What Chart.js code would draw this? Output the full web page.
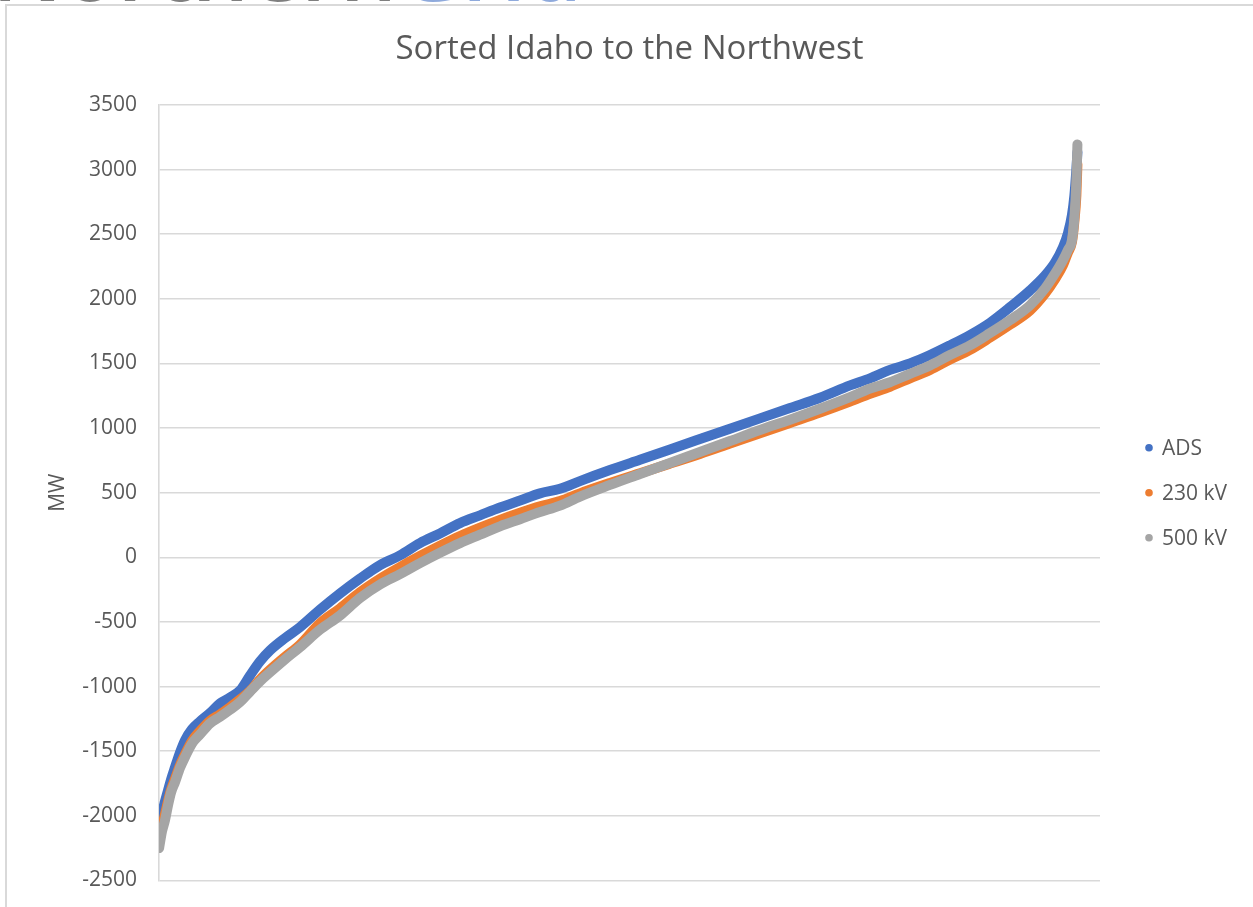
<!DOCTYPE html>
<html>
<head>
<meta charset="utf-8">
<title>Sorted Idaho to the Northwest</title>
<script src="https://cdn.jsdelivr.net/npm/chart.js@4/dist/chart.umd.min.js"></script>
<style>
  html, body { margin: 0; padding: 0; background: #ffffff; overflow: hidden; }
  body { width: 1253px; height: 907px; position: relative; font-family: "Open Sans", sans-serif; }
  #brand {
    position: absolute; left: -8px; top: -79px;
    font-size: 90px; line-height: 90px; font-weight: 600;
    white-space: nowrap; color: #7f7f7f;
  }
  #brand span { color: #8faadc; }
  #frame {
    position: absolute; left: 5px; top: 4px; width: 1248px; height: 903px;
    border-left: 2px solid #d9d9d9; border-top: 2px solid #d9d9d9;
    background: #ffffff; overflow: hidden;
  }
  #chart { position: absolute; left: 0; top: 0; }
</style>
</head>
<body>
<div id="frame"><canvas id="chart" width="1246" height="909"></canvas></div>
<div id="brand">Northern<span>Grid</span></div>
<script>
// Hour of the year (sorted order) at which each series value is given
const hours = [
  1, 29, 57, 86, 115, 153, 201, 249, 316, 392,
  488, 583, 679, 775, 870, 966, 1062, 1205, 1349, 1540,
  1731, 1922, 2114, 2305, 2496, 2687, 2879, 3070, 3261, 3453,
  3644, 3835, 4026, 4313, 4600, 4887, 5174, 5461, 5748, 6035,
  6322, 6609, 6800, 6991, 7182, 7374, 7565, 7756, 7948, 8139,
  8330, 8474, 8569, 8646, 8694, 8732, 8755, 8774, 8784
];

// Sorted flow, MW
const adsMW = [
  -2140, -1985, -1890, -1805, -1720, -1625, -1510, -1415, -1330, -1270,
  -1205, -1130, -1085, -1030, -915, -805, -720, -625, -540, -405,
  -280, -165, -60, 15, 110, 185, 265, 325, 385, 440,
  495, 530, 590, 675, 755, 835, 915, 995, 1075, 1155,
  1235, 1330, 1385, 1450, 1500, 1565, 1640, 1720, 1815, 1935,
  2065, 2180, 2280, 2400, 2510, 2650, 2800, 3000, 3135
];

const kv230MW = [
  -2180, -2080, -1990, -1890, -1800, -1715, -1610, -1525, -1420, -1345,
  -1265, -1215, -1160, -1100, -1035, -945, -870, -770, -675, -510,
  -395, -270, -165, -75, 10, 90, 165, 230, 290, 345,
  395, 435, 495, 575, 650, 725, 800, 880, 960, 1040,
  1120, 1205, 1265, 1320, 1385, 1450, 1530, 1605, 1700, 1800,
  1910, 2040, 2150, 2260, 2360, 2440, 2600, 2800, 3040
];

const kv500MW = [
  -2250, -2120, -2035, -1920, -1820, -1740, -1630, -1545, -1440, -1370,
  -1285, -1235, -1180, -1120, -1040, -960, -890, -790, -695, -560,
  -450, -315, -210, -130, -45, 35, 110, 175, 240, 295,
  350, 400, 470, 560, 645, 730, 815, 900, 985, 1065,
  1150, 1240, 1305, 1355, 1420, 1485, 1565, 1640, 1735, 1835,
  1950, 2080, 2195, 2300, 2380, 2455, 2630, 2900, 3195
];

const seriesNames = ['ADS', '230 kV', '500 kV'];
const seriesColors = ['#4472c4', '#ed7d31', '#a5a5a5'];
const seriesValues = [adsMW, kv230MW, kv500MW];

const yTicks = { min: -2500, max: 3500, step: 500 };
const chartTitle = 'Sorted Idaho to the Northwest';

const FONT = '"Open Sans", sans-serif';
const TEXT = '#595959';
const GRID = '#d9d9d9';

const toPoints = (vals) => vals.map((v, i) => ({ x: hours[i], y: v }));

// Title centred over the plot, legend to the right of it
const decorations = {
  id: 'decorations',
  afterDraw(chart) {
    const ctx = chart.ctx;
    const area = chart.chartArea;
    ctx.save();
    ctx.fillStyle = TEXT;
    ctx.font = '33px ' + FONT;
    ctx.textAlign = 'center';
    ctx.textBaseline = 'middle';
    ctx.fillText(chartTitle, (area.left + area.right) / 2, 44);

    const x0 = area.right + 49;
    const yMid = (area.top + area.bottom) / 2;
    const gap = 45;
    const n = chart.data.datasets.length;
    ctx.font = '21px ' + FONT;
    ctx.textAlign = 'left';
    chart.data.datasets.forEach((ds, i) => {
      const y = yMid + (i - (n - 1) / 2) * gap;
      ctx.beginPath();
      ctx.fillStyle = ds.backgroundColor;
      ctx.arc(x0, y, 3.8, 0, Math.PI * 2);
      ctx.fill();
      ctx.fillStyle = TEXT;
      ctx.fillText(ds.label, x0 + 13, y + 1);
    });
    ctx.restore();
  }
};

new Chart(document.getElementById('chart'), {
  type: 'line',
  data: {
    datasets: seriesNames.map((name, i) => ({
      label: name,
      data: toPoints(seriesValues[i]),
      borderColor: seriesColors[i],
      backgroundColor: seriesColors[i],
      borderWidth: 10,
      borderCapStyle: 'round',
      borderJoinStyle: 'round',
      cubicInterpolationMode: 'monotone',
      pointRadius: 0,
      fill: false,
      order: seriesNames.length - 1 - i
    }))
  },
  options: {
    responsive: false,
    animation: false,
    events: [],
    layout: { padding: { top: 99, left: 34, right: 153, bottom: 27 } },
    plugins: {
      legend: { display: false },
      tooltip: { enabled: false },
      title: { display: false }
    },
    scales: {
      x: { type: 'linear', min: 0, max: 9000, display: false },
      y: {
        type: 'linear',
        min: yTicks.min,
        max: yTicks.max,
        afterFit(scale) { scale.width = 118; },
        ticks: {
          stepSize: yTicks.step,
          color: TEXT,
          padding: 22,
          font: { family: FONT, size: 21 },
          callback: (v) => String(v)
        },
        grid: { color: GRID, lineWidth: 1.6, drawTicks: false },
        border: { color: GRID, width: 1.6 },
        title: {
          display: true,
          text: 'MW',
          color: TEXT,
          font: { family: FONT, size: 21, lineHeight: 1.2 }
        }
      }
    }
  },
  plugins: [decorations]
});
</script>
</body>
</html>
